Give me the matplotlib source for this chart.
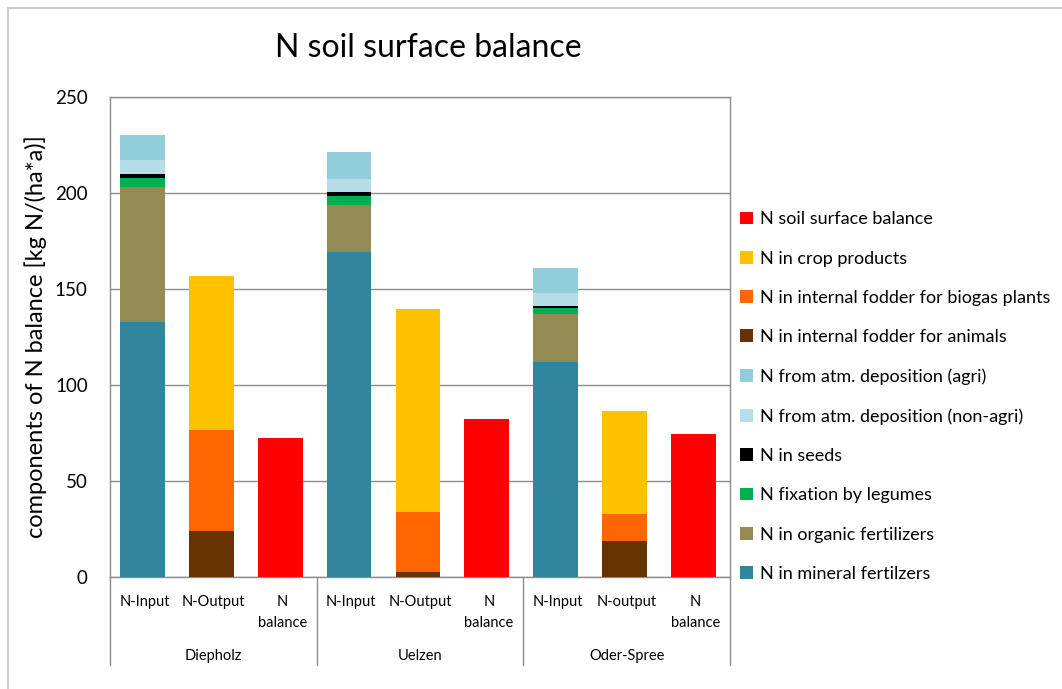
"""N soil surface balance: stacked bars of inputs, outputs and balance per district."""

import matplotlib

matplotlib.use("Agg")
import matplotlib.pyplot as plt
import numpy as np
from matplotlib.patches import Patch, Rectangle

plt.rcParams["font.family"] = ["Lato", "DejaVu Sans"]

groups = ["Diepholz", "Uelzen", "Oder-Spree"]
bar_labels = ["N-Input", "N-Output", "N\nbalance",
              "N-Input", "N-Output", "N\nbalance",
              "N-Input", "N-output", "N\nbalance"]

# one value per bar (input, output, balance) x 3 districts
mineral = [133, 0, 0, 169.5, 0, 0, 112, 0, 0]
organic = [70, 0, 0, 24, 0, 0, 25, 0, 0]
legumes = [5, 0, 0, 5, 0, 0, 3, 0, 0]
seeds = [2, 0, 0, 2, 0, 0, 1, 0, 0]
depo_nonagri = [7, 0, 0, 7, 0, 0, 7, 0, 0]
depo_agri = [13, 0, 0, 14, 0, 0, 13, 0, 0]
fodder_animals = [0, 24, 0, 0, 2.5, 0, 0, 18.5, 0]
fodder_biogas = [0, 52.5, 0, 0, 31.5, 0, 0, 14.5, 0]
crop_products = [0, 80.5, 0, 0, 105.5, 0, 0, 53.5, 0]
soil_balance = [0, 0, 72.5, 0, 0, 82.5, 0, 0, 74.5]

series = [
    ("N in mineral fertilzers", mineral, "#31859C"),
    ("N in organic fertilizers", organic, "#948A54"),
    ("N fixation by legumes", legumes, "#00B050"),
    ("N in seeds", seeds, "#000000"),
    ("N from atm. deposition (non-agri)", depo_nonagri, "#B7DEE8"),
    ("N from atm. deposition (agri)", depo_agri, "#92CDDC"),
    ("N in internal fodder for animals", fodder_animals, "#663300"),
    ("N in internal fodder for biogas plants", fodder_biogas, "#FF6600"),
    ("N in crop products", crop_products, "#FFC000"),
    ("N soil surface balance", soil_balance, "#FF0000"),
]

W, H = 1062, 689
fig = plt.figure(figsize=(W / 100, H / 100), dpi=100)
fig.patches.append(Rectangle((8 / W, -0.05), 1.2, 1 - 8 / H + 0.05,
                             transform=fig.transFigure, fill=False,
                             edgecolor="#C0C0C0", linewidth=1.2))

ax = fig.add_axes([110 / W, (H - 577) / H, 620 / W, 480 / H])
x = np.arange(len(bar_labels))
bottom = np.zeros(len(bar_labels))
handles = []
for name, vals, color in series:
    vals = np.asarray(vals, dtype=float)
    ax.bar(x - 0.03, vals, bottom=bottom, width=0.65, color=color, zorder=3)
    bottom += vals
    handles.append(Patch(facecolor=color, label=name))

ax.set_xlim(-0.5, len(bar_labels) - 0.5)
ax.set_ylim(0, 250)
ax.set_yticks(np.arange(0, 251, 50))
ax.tick_params(axis="y", length=0, labelsize=13.5, pad=16)
ax.set_xticks(x)
ax.set_xticklabels(bar_labels, fontsize=10.5, linespacing=1.6)
ax.tick_params(axis="x", length=0, pad=13)
ax.grid(axis="y", color="#8C8C8C", linewidth=1.0, zorder=0)
for side in ["left", "right", "top", "bottom"]:
    ax.spines[side].set_color("#8C8C8C")
    ax.spines[side].set_linewidth(1.0)
ax.set_ylabel("components of N balance [kg N/(ha*a)]", fontsize=17, labelpad=6)

# group separators and district names below the axis
trans = ax.get_xaxis_transform()
for xs in [-0.5, 2.5, 5.5, 8.5]:
    ax.plot([xs, xs], [0, -88 / 480], color="#8C8C8C", linewidth=1.0,
            transform=trans, clip_on=False)
for i, g in enumerate(groups):
    ax.text(3 * i + 1, -79 / 480, g, transform=trans, ha="center",
            va="center", fontsize=10.5)

fig.text(428 / W, 1 - 48 / H, "N soil surface balance", ha="center",
         va="center", fontsize=23)

fig.legend(handles=handles[::-1], loc="upper left",
           bbox_to_anchor=(733 / W, 1 - 204 / H), frameon=False,
           fontsize=13, handlelength=0.7, handleheight=0.7,
           handletextpad=0.4, labelspacing=1.29, borderaxespad=0)

fig.savefig("out.png", dpi=100)
